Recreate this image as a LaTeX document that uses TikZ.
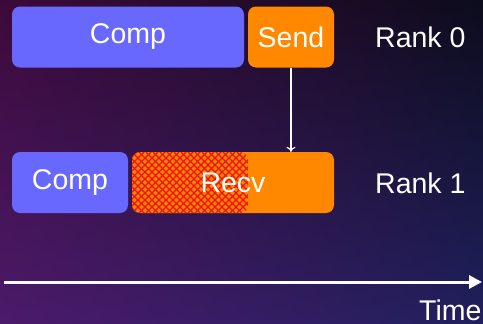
\documentclass[tikz,border=0pt]{standalone}
\usepackage{fontspec}
\setmainfont{Liberation Sans}
\usetikzlibrary{arrows.meta,shadings}
\definecolor{compblue}{HTML}{6868FF}
\definecolor{msgorange}{HTML}{FF8800}
\definecolor{hatchred}{HTML}{F01010}
\definecolor{bgtl}{HTML}{3C0A3A}
\definecolor{bgtr}{HTML}{0C0C1C}
\definecolor{bgbl}{HTML}{4C1A6A}
\definecolor{bgbr}{HTML}{20205E}
\tikzset{
  box/.style={rounded corners=8pt, inner sep=0pt, minimum height=61pt,
    text=white, font=\fontsize{28.5}{34}\selectfont},
  compbox/.style={box, fill=compblue},
  msgbox/.style={box, fill=msgorange},
  ranklabel/.style={text=white, inner sep=0pt, anchor=base west,
    font=\fontsize{28.5}{34}\selectfont},
  hatchline/.style={draw=hatchred, line width=1.4pt}
}
\begin{document}
\begin{tikzpicture}[x=1pt, y=-1pt]
  % background
  \shade[upper left=bgtl, upper right=bgtr, lower left=bgbl, lower right=bgbr]
    (0,0) rectangle (483,324);
  \useasboundingbox (0,0) rectangle (483,324);

  % rank 0
  \node[compbox, minimum width=232pt] (comp0) at (128,37) {Comp};
  \node[msgbox, minimum width=86pt] (send) at (291,37) {Send};
  \node[ranklabel] (rank0) at (375,47) {Rank 0};

  % rank 1
  \node[compbox, minimum width=116pt] (comp1) at (70,182.5) {Comp};
  \node[msgbox, minimum width=202pt,
    path picture={
      \begin{scope}
        \clip (path picture bounding box.north west) rectangle
              ([xshift=116pt]path picture bounding box.south west);
        \foreach \i in {-84,-77,...,140} {
          \draw[hatchline] ([xshift=\i pt]path picture bounding box.south west) -- ++(70pt,70pt);
          \draw[hatchline] ([xshift=\i pt]path picture bounding box.north west) -- ++(70pt,-70pt);
        }
      \end{scope}
    }] (recv) at (233,182.5) {Recv};
  \node[ranklabel] (rank1) at (375,193) {Rank 1};

  % message
  \draw[white, line width=1.2pt, -{To[length=5pt,width=9pt]}]
    (send.south) -- (send.south |- recv.north);

  % time axis
  \coordinate (t0) at (4,282);
  \coordinate (t1) at (482,282);
  \draw[white, line width=3pt, -{Triangle[length=13pt,width=13pt]}] (t0) -- (t1);
  \node[ranklabel] (time) at (419,320) {Time};
\end{tikzpicture}
\end{document}
